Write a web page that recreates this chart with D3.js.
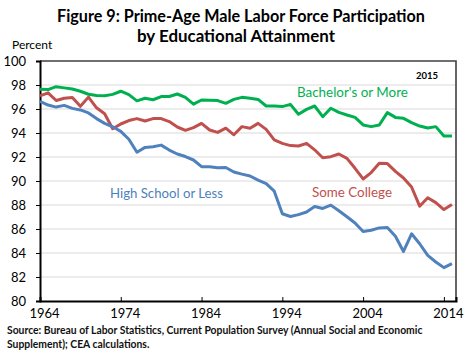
<!DOCTYPE html>
<html><head><meta charset="utf-8">
<script src="https://cdn.jsdelivr.net/npm/d3@7"></script>
<style>
html,body{margin:0;padding:0;background:#fff;}
text{font-family:Lato,"Open Sans",sans-serif;}
</style></head>
<body><svg id="c" width="472" height="355"></svg>
<script>
const years = d3.range(1964, 2016);
const bachelors = [97.64,97.62,97.86,97.76,97.67,97.48,97.23,97.12,97.1,97.22,
  97.48,97.2,96.68,96.9,96.77,97.04,97.04,97.25,96.97,96.4,
  96.75,96.72,96.7,96.47,96.8,96.97,96.9,96.8,96.25,96.25,
  96.2,96.39,95.56,95.97,96.25,95.36,96.06,95.72,95.5,95.3,
  94.67,94.53,94.67,95.7,95.3,95.22,94.86,94.58,94.42,94.53,
  93.75,93.75];
const someCollege = [97.1,97.35,96.71,96.9,96.96,96.22,96.99,96.1,95.6,94.35,
  94.75,95.04,95.2,95.0,95.2,95.2,94.95,94.5,94.22,94.45,
  94.8,94.25,94.05,94.4,93.85,94.53,94.39,94.8,94.3,93.42,
  93.14,92.95,92.92,93.14,92.6,91.94,92.03,92.25,91.89,91.06,
  90.17,90.7,91.48,91.45,90.8,90.25,89.5,87.9,88.6,88.2,
  87.62,88.05];
const highSchool = [96.63,96.33,96.16,96.3,96.05,95.92,95.67,95.2,94.8,94.52,
  94.14,93.48,92.4,92.8,92.85,92.99,92.58,92.25,92.04,91.75,
  91.19,91.19,91.1,91.12,90.75,90.57,90.42,90.07,89.78,89.15,
  87.27,87.04,87.2,87.42,87.88,87.71,87.99,87.52,87.02,86.5,
  85.79,85.9,86.09,86.12,85.4,84.13,85.6,84.77,83.8,83.25,
  82.78,83.11];
const yTicks = [80,82,84,86,88,90,92,94,96,98,100];
const xTicks = [1964,1974,1984,1994,2004,2014];
const seriesNames = ["Bachelor's or More","Some College","High School or Less"];
const seriesColors = ["#00b050","#c0504d","#4f81bd"];
const titleLines = ["Figure 9: Prime-Age Male Labor Force Participation","by Educational Attainment"];
const sourceLines = ["Source: Bureau of Labor Statistics, Current Population Survey (Annual Social and Economic","Supplement); CEA calculations."];

const svg = d3.select("#c");
const L=40, R=456, T=61, B=301;
const x = d3.scaleLinear().domain([1964, 2015.5]).range([L, R]);
const y = d3.scaleLinear().domain([80, 100]).range([B, T]);

function fit(sel, w){
  const len = sel.node().getComputedTextLength();
  const fs = parseFloat(sel.attr("font-size"));
  sel.attr("font-size", (fs*w/len).toFixed(2));
}

// gridlines
svg.append("g").selectAll("line").data(yTicks.filter(d=>d>80 && d<100)).join("line")
  .attr("x1",L).attr("x2",R).attr("y1",d=>y(d)).attr("y2",d=>y(d))
  .attr("stroke","#d9d9d9").attr("stroke-width",1);

// frame top/right
svg.append("path").attr("d",`M${L},${T}H${R}V${B}`).attr("fill","none")
  .attr("stroke","#404040").attr("stroke-width",1.6);

// y axis
const ya = svg.append("g").attr("transform",`translate(${L},0)`)
  .call(d3.axisLeft(y).tickValues(yTicks).tickSize(4).tickFormat(d3.format("d")));
ya.select(".domain").attr("stroke","#000").attr("stroke-width",2);
ya.selectAll(".tick line").attr("stroke","#000");
ya.selectAll(".tick text").attr("x",-14).attr("font-size",13).attr("fill","#000")
  .attr("font-family","Lato,sans-serif");
ya.selectAll(".tick").filter(d=>d===100||d===80).select("line").remove();

// x axis
const xa = svg.append("g").attr("transform",`translate(0,${B})`)
  .call(d3.axisBottom(x).tickValues(xTicks).tickSize(-4).tickFormat(d3.format("d")));
xa.select(".domain").attr("stroke","#000").attr("stroke-width",2);
xa.selectAll(".tick line").attr("stroke","#000");
xa.selectAll(".tick").filter(d=>d===1964).select("line").remove();
xa.selectAll(".tick text").attr("x",4).attr("y",8).attr("font-size",13).attr("fill","#000")
  .attr("font-family","Lato,sans-serif");

// lines
const line = d3.line().x((d,i)=>x(years[i])).y(d=>y(d));
[bachelors, someCollege, highSchool].forEach((s,i)=>{
  svg.append("path").datum(s).attr("d",line).attr("fill","none")
    .attr("stroke",seriesColors[i]).attr("stroke-width",3).attr("stroke-linejoin","round");
});

// series labels
const labelPos = [[297,97],[312,197],[110,198]];
seriesNames.forEach((n,i)=>{
  const t = svg.append("text").attr("x",labelPos[i][0]).attr("y",labelPos[i][1])
    .attr("font-size",12).attr("fill",seriesColors[i]).text(n);
  fit(t, [111,80,113][i]);
});

svg.append("text").attr("x",416).attr("y",79).attr("font-size",9.5)
  .attr("font-weight","bold").attr("fill","#000").text("2015");

svg.append("text").attr("x",12).attr("y",49).attr("font-size",12).attr("fill","#000").text("Percent");

// title
titleLines.forEach((tl,i)=>{
  const t = svg.append("text").attr("x",[241,236][i]).attr("y",[22,42][i]).attr("text-anchor","middle")
    .attr("font-size",15).attr("font-weight","bold").attr("fill","#000").text(tl);
  fit(t, [368,198][i]);
});

// source
const s0 = svg.append("text").attr("x",7).attr("y",334).attr("font-size",10)
  .attr("font-weight","bold").attr("fill","#111").text(sourceLines[0]);
fit(s0, 416);
svg.append("text").attr("x",7).attr("y",348).attr("font-size",s0.attr("font-size"))
  .attr("font-weight","bold").attr("fill","#111").text(sourceLines[1]);
</script>
</body></html>
